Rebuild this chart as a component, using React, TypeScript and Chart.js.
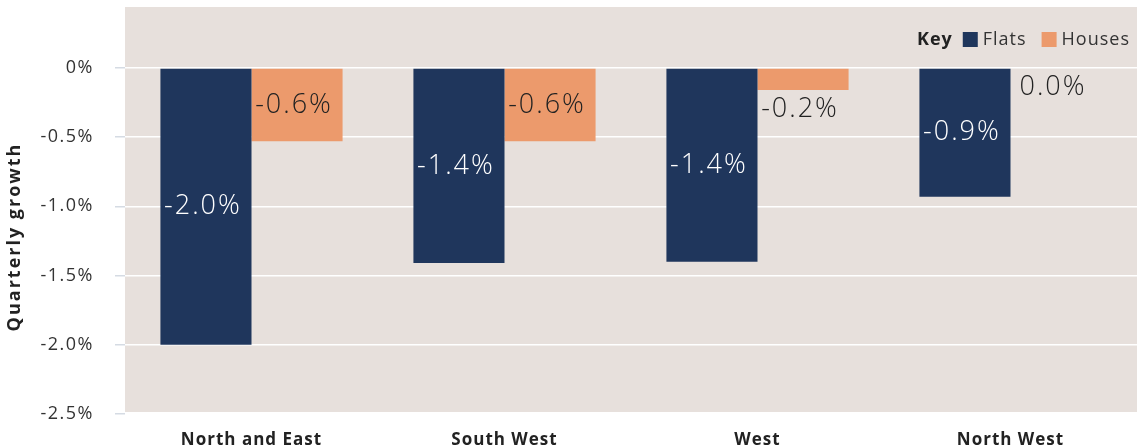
import React, { useEffect, useRef } from "react";
import { Chart, registerables } from "chart.js";

Chart.register(...registerables);

const categories = ["North and East", "South West", "West", "North West"];
const flatsValues = [-2.0, -1.41, -1.4, -0.93];
const housesValues = [-0.53, -0.53, -0.16, 0.0];
const flatsLabels = ["-2.0%", "-1.4%", "-1.4%", "-0.9%"];
const housesLabels = ["-0.6%", "-0.6%", "-0.2%", "0.0%"];
const yTickValues = [0, -0.5, -1.0, -1.5, -2.0, -2.5];
const yTickLabels = ["0%", "-0.5%", "-1.0%", "-1.5%", "-2.0%", "-2.5%"];
const seriesNames = ["Flats", "Houses"];
const keyTitle = "Key";
const yTitle = "Quarterly growth";

const NAVY = "#1f365c";
const ORANGE = "#ec9a6c";
const PLOT_BG = "#e7e0dc";
const FONT = "'Open Sans', 'Noto Sans', sans-serif";

function wrapLabels(scale: any, spacing: string) {
  if (scale.__wrapped) return;
  const orig = scale.drawLabels.bind(scale);
  scale.drawLabels = (area: any) => {
    const ctx = scale.ctx;
    ctx.save();
    ctx.letterSpacing = spacing;
    orig(area);
    ctx.restore();
  };
  scale.__wrapped = true;
}

const plotBg = {
  id: "plotBg",
  beforeDraw(chart: any) {
    const { ctx, chartArea } = chart;
    wrapLabels(chart.scales.y, "1.5px");
    wrapLabels(chart.scales.x, "1px");
    ctx.save();
    ctx.fillStyle = PLOT_BG;
    ctx.fillRect(chartArea.left, chartArea.top, chartArea.right - chartArea.left, chartArea.bottom - chartArea.top - 2);
    ctx.restore();
  },
};

const overlay = {
  id: "overlay",
  afterDraw(chart: any) {
    const { ctx } = chart;
    ctx.save();
    // data labels
    const labelSets = [flatsLabels, housesLabels];
    ctx.letterSpacing = "2px";
    chart.data.datasets.forEach((ds: any, di: number) => {
      const meta = chart.getDatasetMeta(di);
      meta.data.forEach((bar: any, i: number) => {
        const text = labelSets[di][i];
        const top = Math.min(bar.y, bar.base);
        const bottom = Math.max(bar.y, bar.base);
        const h = bottom - top;
        ctx.font = `300 27px ${FONT}`;
        ctx.textAlign = "center";
        ctx.textBaseline = "middle";
        let y: number;
        if (h > 40) {
          y = (top + bottom) / 2;
          ctx.fillStyle = di === 0 ? "#ffffff" : "#222222";
        } else {
          y = bottom + 19;
          ctx.fillStyle = "#222222";
        }
        ctx.fillText(text, bar.x - 3, y);
      });
    });
    // legend (right-aligned at 1129)
    ctx.letterSpacing = "1px";
    const ly = 40;
    ctx.textBaseline = "middle";
    ctx.textAlign = "left";
    const keyFont = `bold 18px ${FONT}`;
    const itemFont = `18px ${FONT}`;
    ctx.font = keyFont;
    const keyW = ctx.measureText(keyTitle).width;
    ctx.font = itemFont;
    const names = chart.data.datasets.map((d: any) => d.label);
    const widths = names.map((n: string) => ctx.measureText(n).width);
    const total = keyW + 10 + widths.reduce((a: number, w: number) => a + 15 + 5 + w, 0) + 15 * (names.length - 1);
    let x = 1130 - total;
    ctx.font = keyFont;
    ctx.fillStyle = "#222222";
    ctx.fillText(keyTitle, x, ly);
    x += keyW + 10;
    chart.data.datasets.forEach((ds: any, di: number) => {
      ctx.fillStyle = ds.backgroundColor;
      ctx.fillRect(x, ly - 8, 15, 15);
      x += 20;
      ctx.font = itemFont;
      ctx.fillStyle = "#333333";
      ctx.fillText(ds.label, x, ly);
      x += widths[di] + 15;
    });
    // y title
    ctx.letterSpacing = "2px";
    ctx.translate(15, 237);
    ctx.rotate(-Math.PI / 2);
    ctx.textAlign = "center";
    ctx.font = `bold 18px ${FONT}`;
    ctx.fillStyle = "#222222";
    ctx.fillText(yTitle, 0, 0);
    ctx.restore();
  },
};

export default function App() {
  const ref = useRef<HTMLCanvasElement>(null);
  useEffect(() => {
    document.body.style.margin = "0";
    const chart = new Chart(ref.current!, {
      type: "bar",
      data: {
        labels: categories,
        datasets: [
          { label: seriesNames[0], data: flatsValues, backgroundColor: NAVY, categoryPercentage: 0.72, barPercentage: 1.0 },
          { label: seriesNames[1], data: housesValues, backgroundColor: ORANGE, categoryPercentage: 0.72, barPercentage: 1.0 },
        ],
      },
      options: {
        animation: false,
        responsive: false,
        maintainAspectRatio: false,
        layout: { padding: { top: 7, right: 0, left: 0, bottom: 0 } },
        plugins: { legend: { display: false }, tooltip: { enabled: false } },
        scales: {
          x: {
            grid: { display: false, drawTicks: false },
            border: { display: false },
            ticks: { font: { family: FONT, size: 17, weight: "bold" }, color: "#222222", padding: 16 },
            afterFit(scale: any) {
              scale.height = 34;
              scale.paddingLeft = 0;
              scale.paddingRight = 0;
            },
          },
          y: {
            min: -2.5,
            max: 0.44,
            border: { display: false },
            grid: { color: "#ffffff", lineWidth: 1.5, tickColor: "#d5dbe3", tickLength: 10 },
            ticks: {
              font: { family: FONT, size: 18 },
              color: "#333333",
              padding: 21,
              callback: (v: any) => {
                const idx = yTickValues.findIndex((t) => Math.abs(t - v) < 1e-6);
                return idx >= 0 ? yTickLabels[idx] : "";
              },
            },
            afterBuildTicks(scale: any) {
              scale.ticks = yTickValues.map((v) => ({ value: v }));
            },
            afterFit(scale: any) {
              scale.width = 125;
              scale.paddingTop = 0;
              scale.paddingBottom = 0;
            },
          },
        },
      },
      plugins: [plotBg, overlay],
    });
    return () => chart.destroy();
  }, []);
  return <canvas ref={ref} width={1137} height={448} style={{ display: "block" }} />;
}
